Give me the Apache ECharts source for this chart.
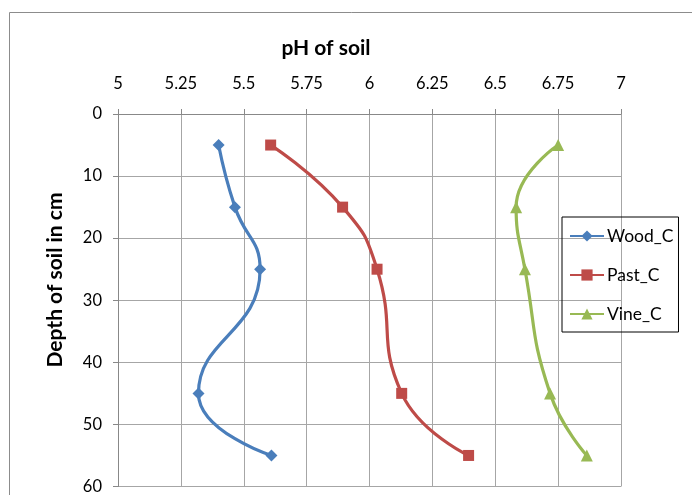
<!DOCTYPE html>
<html>
<head>
<meta charset="utf-8">
<script src="https://cdn.jsdelivr.net/npm/echarts@6/dist/echarts.min.js"></script>
<style>
html,body{margin:0;padding:0;background:#fff;}
#chart{width:692px;height:495px;}
</style>
</head>
<body>
<div id="chart"></div>
<script>
var depths = [5, 15, 25, 45, 55];
var woodC = [5.40, 5.465, 5.565, 5.32, 5.61];
var pastC = [5.607, 5.893, 6.03, 6.128, 6.394];
var vineC = [6.75, 6.583, 6.618, 6.718, 6.864];
var seriesNames = ['Wood_C', 'Past_C', 'Vine_C'];
var xTitle = 'pH of soil';
var yTitle = 'Depth of soil in cm';

function pairs(vals) {
  return vals.map(function (v, i) { return [v, depths[i]]; });
}

var FONT = 'Lato, "Open Sans", sans-serif';
var chart = echarts.init(document.getElementById('chart'), null, {renderer: 'canvas'});
chart.setOption({
  animation: false,
  backgroundColor: '#fff',
  grid: {left: 118, top: 114, right: 71, bottom: 7, containLabel: false},
  xAxis: {
    type: 'value', position: 'top', min: 5, max: 7, interval: 0.25,
    axisLine: {show: true, lineStyle: {color: '#888', width: 1}},
    axisTick: {show: true, length: 5, lineStyle: {color: '#888'}},
    axisLabel: {color: '#000', fontSize: 16.5, fontFamily: FONT, margin: 22},
    splitLine: {show: true, lineStyle: {color: '#a6a6a6', width: 1}}
  },
  yAxis: {
    type: 'value', inverse: true, min: 0, max: 60, interval: 10,
    axisLine: {show: true, lineStyle: {color: '#888', width: 1}},
    axisTick: {show: true, length: 5, lineStyle: {color: '#888'}},
    axisLabel: {color: '#000', fontSize: 16.5, fontFamily: FONT, margin: 16},
    splitLine: {show: true, lineStyle: {color: '#a6a6a6', width: 1}}
  },
  legend: {
    orient: 'vertical', left: 562, top: 217,
    padding: [10, 5, 9, 7],
    borderColor: '#000', borderWidth: 1,
    itemWidth: 34, itemHeight: 14, itemGap: 21,
    textStyle: {color: '#000', fontSize: 17.5, fontFamily: FONT, padding: [0, 0, 0, -2]},
    data: seriesNames
  },
  graphic: [
    {type: 'rect', shape: {x: 9.5, y: 12.5, width: 900, height: 700}, style: {fill: 'none', stroke: '#8c8c8c', lineWidth: 1}, silent: true, z: -10},
    {type: 'text', x: 326, y: 48, style: {text: xTitle, font: 'bold 21px ' + FONT, fill: '#000', align: 'center', verticalAlign: 'middle'}},
    {type: 'text', x: 55, y: 280, rotation: Math.PI / 2, style: {text: yTitle, font: 'bold 21px ' + FONT, fill: '#000', align: 'center', verticalAlign: 'middle'}}
  ],
  series: [
    {name: seriesNames[0], type: 'line', data: pairs(woodC), smooth: 0.5, symbol: 'diamond', symbolSize: 12,
     lineStyle: {width: 3.2, color: '#4a7ebb'}, itemStyle: {color: '#4a7ebb'}},
    {name: seriesNames[1], type: 'line', data: pairs(pastC), smooth: 0.5, symbol: 'rect', symbolSize: 11,
     lineStyle: {width: 3.2, color: '#be4b48'}, itemStyle: {color: '#be4b48'}},
    {name: seriesNames[2], type: 'line', data: pairs(vineC), smooth: 0.5, symbol: 'triangle', symbolSize: 12,
     lineStyle: {width: 3.2, color: '#98b954'}, itemStyle: {color: '#98b954'}}
  ]
});
</script>
</body>
</html>
